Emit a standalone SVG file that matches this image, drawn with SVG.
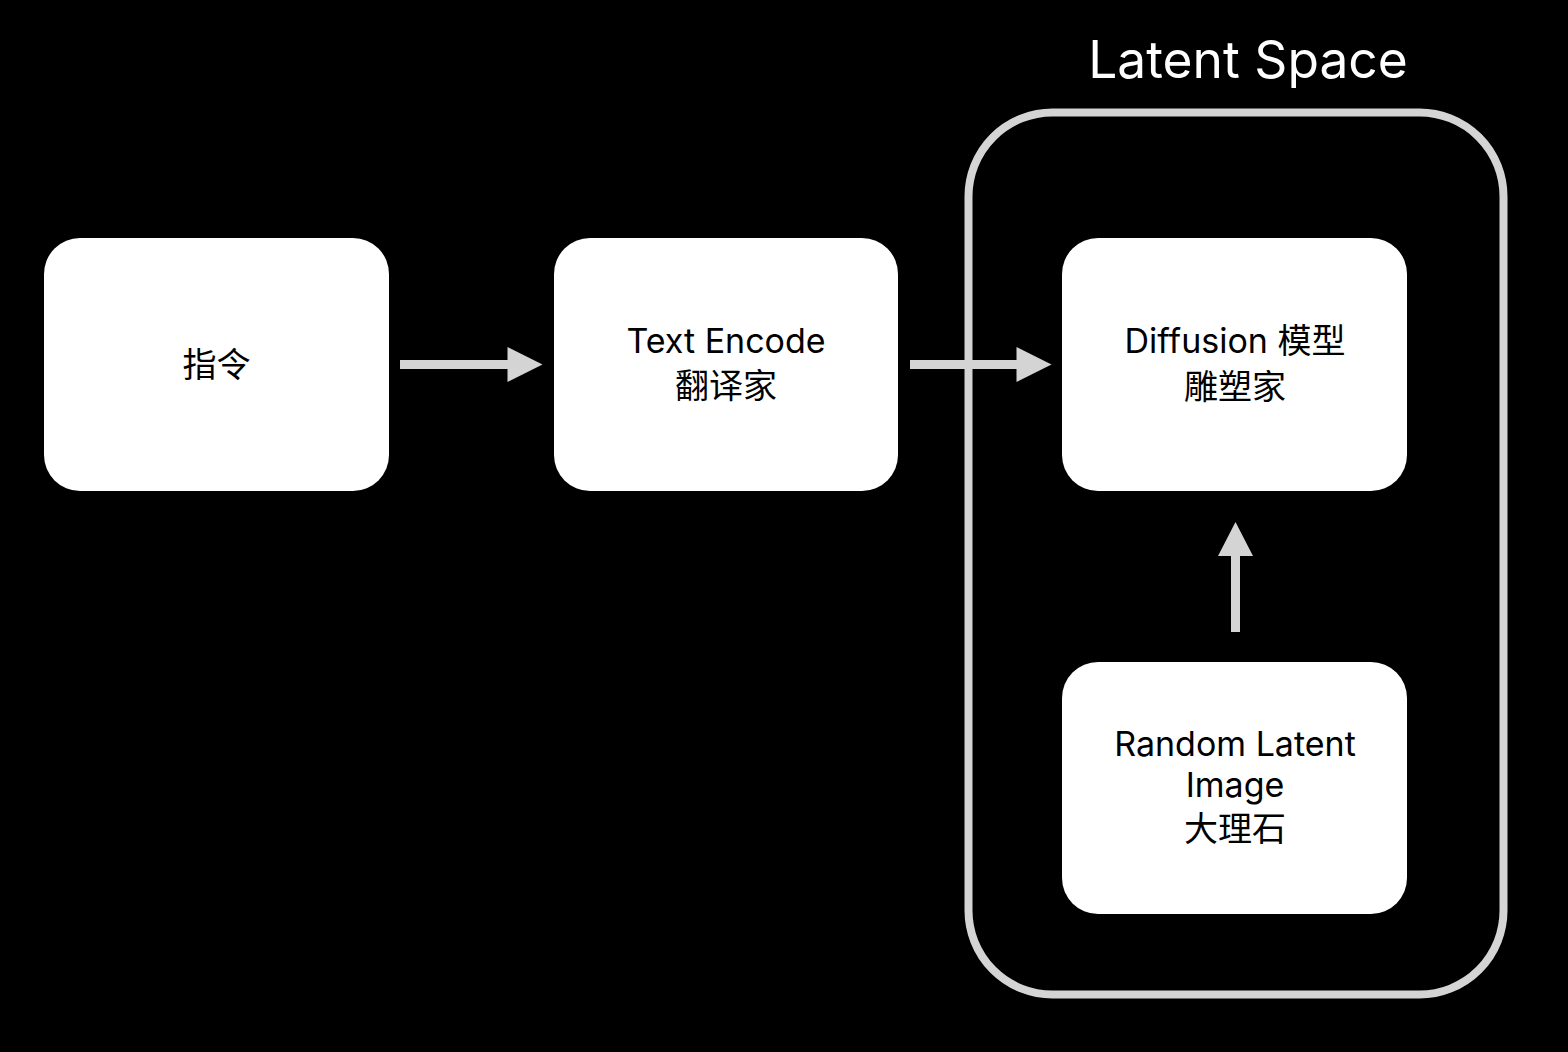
<svg xmlns="http://www.w3.org/2000/svg" width="1568" height="1052" viewBox="0 0 1568 1052">
<style>
.node{fill:#ffffff}
.t{font-family:Inter,"Noto Sans","Noto Sans CJK SC",sans-serif;font-size:34px;fill:#000000;text-anchor:middle}
.title{font-family:Inter,"Noto Sans",sans-serif;font-size:51.5px;fill:#ffffff;text-anchor:middle}
.conn{fill:#d4d4d4}
</style>
<rect x="0" y="0" width="1568" height="1052" fill="#000000"/>
<g id="latent-space">
<rect x="968.5" y="112.5" width="535" height="882" rx="84" ry="84" fill="none" stroke="#d4d4d4" stroke-width="8"/>
<text class="title" x="1248" y="78">Latent Space</text>
</g>
<g id="connectors">
<path class="conn" d="M400,360 H507.5 V347 L542.5,364.5 L507.5,382 V369 H400 Z"/>
<path class="conn" d="M910,360 H1016.5 V347 L1051.5,364.5 L1016.5,382 V369 H910 Z"/>
<path class="conn" d="M1231,632 V556 H1218 L1235.5,522 L1253,556 H1240 V632 Z"/>
</g>
<g id="node-instruction">
<rect class="node" x="44" y="238" width="345" height="253" rx="36" ry="36"/>
<text class="t" x="216.5" y="377">指令</text>
</g>
<g id="node-text-encode">
<rect class="node" x="554" y="238" width="344" height="253" rx="36" ry="36"/>
<text class="t" x="726" y="353">Text Encode</text>
<text class="t" x="726" y="398">翻译家</text>
</g>
<g id="node-diffusion">
<rect class="node" x="1062" y="238" width="345" height="253" rx="36" ry="36"/>
<text class="t" x="1235" y="353">Diffusion 模型</text>
<text class="t" x="1235" y="399">雕塑家</text>
</g>
<g id="node-random-latent">
<rect class="node" x="1062" y="662" width="345" height="252" rx="36" ry="36"/>
<text class="t" x="1235" y="756">Random Latent</text>
<text class="t" x="1235" y="797">Image</text>
<text class="t" x="1235" y="841">大理石</text>
</g>
</svg>
